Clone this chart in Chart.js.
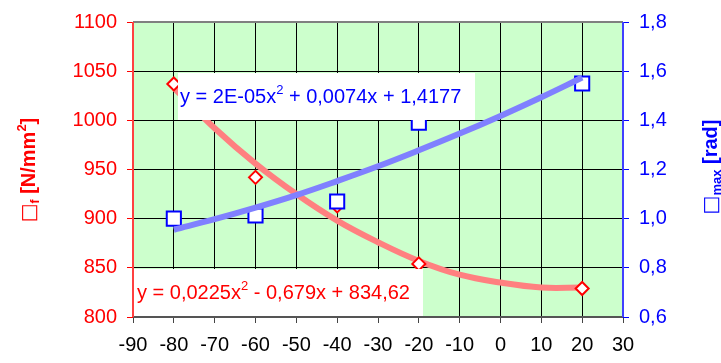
<!DOCTYPE html>
<html>
<head>
<meta charset="utf-8">
<script src="https://cdn.jsdelivr.net/npm/chart.js@4.4.1/dist/chart.umd.min.js"></script>
<style>
  html, body { margin: 0; padding: 0; background: #fff; }
  #wrap { width: 721px; height: 363px; }
</style>
</head>
<body>
<div id="wrap"><canvas id="chart" width="721" height="363"></canvas></div>
<script>
// ==================== Data ====================

const tempValues = [-80, -60, -40, -20, 20];
const stressValues = [1037, 942, 913, 854, 829];
const angleValues = [1.00, 1.013, 1.07, 1.39, 1.55];

// trendlines
const trendX = [-80, -70, -60, -50, -40, -30, -20, -10, 0, 10, 20];
const stressTrend = [1033, 992, 956, 925, 898, 876, 857, 843, 835, 830, 830];
const angleTrend = [0.955, 0.998, 1.045, 1.096, 1.153, 1.213, 1.278, 1.346, 1.418, 1.494, 1.574];

const xTicks = [-90, -80, -70, -60, -50, -40, -30, -20, -10, 0, 10, 20, 30];
const stressTicks = [800, 850, 900, 950, 1000, 1050, 1100];
const angleTicks = [0.6, 0.8, 1.0, 1.2, 1.4, 1.6, 1.8];

const stressEq = ['y = 0,0225x', '2', ' - 0,679x + 834,62'];
const angleEq = ['y = 2E-05x', '2', ' + 0,0074x + 1,4177'];

const FONT = '"Liberation Sans", Arial, sans-serif';
const RED = '#FF0000';
const BLUE = '#0000FF';

function pairs(xs, ys) {
    return xs.map((x, i) => ({ x: x, y: ys[i] }));
}

// ==================== Plugins ====================

const backgroundPlugin = {
    id: 'plotBackground',
    beforeDraw(chart) {
        const a = chart.chartArea;
        const ctx = chart.ctx;
        ctx.save();
        ctx.fillStyle = '#CCFFCC';
        ctx.fillRect(a.left, a.top, a.right - a.left, a.bottom - a.top);
        ctx.restore();
    }
};

// draws text parts with a raised/lowered small part, returns width
function drawParts(ctx, parts, x, y, color, measureOnly) {
    let cx = x;
    parts.forEach(p => {
        ctx.font = p.font;
        const w = ctx.measureText(p.text).width;
        if (!measureOnly) {
            ctx.fillStyle = color;
            ctx.fillText(p.text, cx, y + (p.dy || 0));
        }
        cx += w;
    });
    return cx - x;
}

function drawEquation(ctx, eq, box, color) {
    ctx.save();
    ctx.fillStyle = '#fff';
    ctx.fillRect(box.x, box.y, box.w, box.h);
    ctx.textBaseline = 'alphabetic';
    ctx.textAlign = 'left';
    const parts = [
        { text: eq[0], font: '20px ' + FONT },
        { text: eq[1], font: '13px ' + FONT, dy: -9 },
        { text: eq[2], font: '20px ' + FONT }
    ];
    drawParts(ctx, parts, box.tx, box.ty, color, false);
    ctx.restore();
}

function drawVerticalTitle(ctx, parts, cx, cy, color) {
    ctx.save();
    ctx.textBaseline = 'alphabetic';
    ctx.textAlign = 'left';
    const w = drawParts(ctx, parts, 0, 0, color, true);
    ctx.translate(cx, cy);
    ctx.rotate(-Math.PI / 2);
    drawParts(ctx, parts, -w / 2, 7, color, false);
    ctx.restore();
}

const overlayPlugin = {
    id: 'overlay',
    afterDatasetsDraw(chart) {
        const ctx = chart.ctx;
        drawEquation(ctx, angleEq, { x: 178, y: 73, w: 297, h: 47, tx: 180, ty: 103 }, BLUE);
        drawEquation(ctx, stressEq, { x: 133, y: 269, w: 290, h: 48, tx: 137, ty: 299 }, RED);
    },
    afterDraw(chart) {
        const a = chart.chartArea;
        const ctx = chart.ctx;
        ctx.save();
        // frame
        ctx.lineWidth = 2;
        ctx.strokeStyle = '#808080';
        ctx.beginPath();
        ctx.moveTo(a.left, a.top); ctx.lineTo(a.right, a.top);
        ctx.stroke();
        ctx.strokeStyle = '#555';
        ctx.beginPath();
        ctx.moveTo(a.left, a.bottom); ctx.lineTo(a.right, a.bottom);
        ctx.stroke();
        ctx.strokeStyle = '#FF4040';
        ctx.beginPath();
        ctx.moveTo(a.left, a.top); ctx.lineTo(a.left, a.bottom);
        ctx.stroke();
        ctx.strokeStyle = '#4040FF';
        ctx.beginPath();
        ctx.moveTo(a.right, a.top); ctx.lineTo(a.right, a.bottom);
        ctx.stroke();
        ctx.restore();

        // axis titles
        drawVerticalTitle(ctx, [
            { text: '\u25A1', font: '20px "DejaVu Sans", sans-serif' },
            { text: 'f', font: 'bold 12px ' + FONT, dy: 4 },
            { text: ' [N/mm', font: 'bold 20px ' + FONT },
            { text: '2', font: 'bold 13px ' + FONT, dy: -9 },
            { text: ']', font: 'bold 20px ' + FONT }
        ], 28, 170, RED);
        drawVerticalTitle(ctx, [
            { text: '\u25A1', font: '20px "DejaVu Sans", sans-serif' },
            { text: 'max', font: 'bold 13px ' + FONT, dy: 4 },
            { text: ' [rad]', font: 'bold 20px ' + FONT }
        ], 710, 167, BLUE);
    }
};

// ==================== Chart ====================

const ctx = document.getElementById('chart');

// dataset 0 is painted last (on top)
new Chart(ctx, {
    type: 'scatter',
    data: {
        datasets: [
            {
                label: 'angle trend',
                data: pairs(trendX, angleTrend),
                yAxisID: 'y1',
                showLine: true,
                borderColor: '#8080FF',
                borderWidth: 6,
                tension: 0.4,
                pointRadius: 0
            },
            {
                label: 'angle',
                data: pairs(tempValues, angleValues),
                yAxisID: 'y1',
                showLine: false,
                pointStyle: 'rect',
                pointRadius: 10,
                pointBorderWidth: 2,
                pointBorderColor: BLUE,
                pointBackgroundColor: '#fff'
            },
            {
                label: 'stress',
                data: pairs(tempValues, stressValues),
                yAxisID: 'y',
                showLine: false,
                pointStyle: 'rectRot',
                pointRadius: 6.5,
                pointBorderWidth: 2,
                pointBorderColor: RED,
                pointBackgroundColor: '#fff'
            },
            {
                label: 'stress trend',
                data: pairs(trendX, stressTrend),
                yAxisID: 'y',
                showLine: true,
                borderColor: '#FF8080',
                borderWidth: 6,
                tension: 0.4,
                pointRadius: 0
            }
        ]
    },
    options: {
        responsive: false,
        animation: false,
        layout: { padding: { top: 21, right: 0, bottom: 0, left: 0 } },
        plugins: {
            legend: { display: false },
            tooltip: { enabled: false }
        },
        scales: {
            x: {
                type: 'linear',
                min: -90,
                max: 30,
                afterBuildTicks: s => { s.ticks = xTicks.map(v => ({ value: v })); },
                afterFit: s => { s.height = 46; },
                border: { display: false },
                grid: { color: '#000', lineWidth: 1, tickLength: 6, tickColor: '#444' },
                ticks: {
                    color: '#000',
                    font: { family: FONT, size: 20 },
                    padding: 10,
                    maxRotation: 0,
                    callback: v => String(v)
                }
            },
            y: {
                position: 'left',
                min: 800,
                max: 1100,
                afterBuildTicks: s => { s.ticks = stressTicks.map(v => ({ value: v })); },
                afterFit: s => { s.width = 133; },
                border: { display: false },
                grid: { color: '#000', lineWidth: 1, tickLength: 6, tickColor: RED },
                ticks: {
                    color: RED,
                    font: { family: FONT, size: 20 },
                    padding: 10,
                    callback: v => String(v)
                }
            },
            y1: {
                position: 'right',
                min: 0.6,
                max: 1.8,
                afterBuildTicks: s => { s.ticks = angleTicks.map(v => ({ value: v })); },
                afterFit: s => { s.width = 98; },
                border: { display: false },
                grid: { drawOnChartArea: false, tickLength: 6, tickColor: BLUE },
                ticks: {
                    color: BLUE,
                    font: { family: FONT, size: 20 },
                    padding: 10,
                    callback: v => v.toFixed(1).replace('.', ',')
                }
            }
        }
    },
    plugins: [backgroundPlugin, overlayPlugin]
});
</script>
</body>
</html>
